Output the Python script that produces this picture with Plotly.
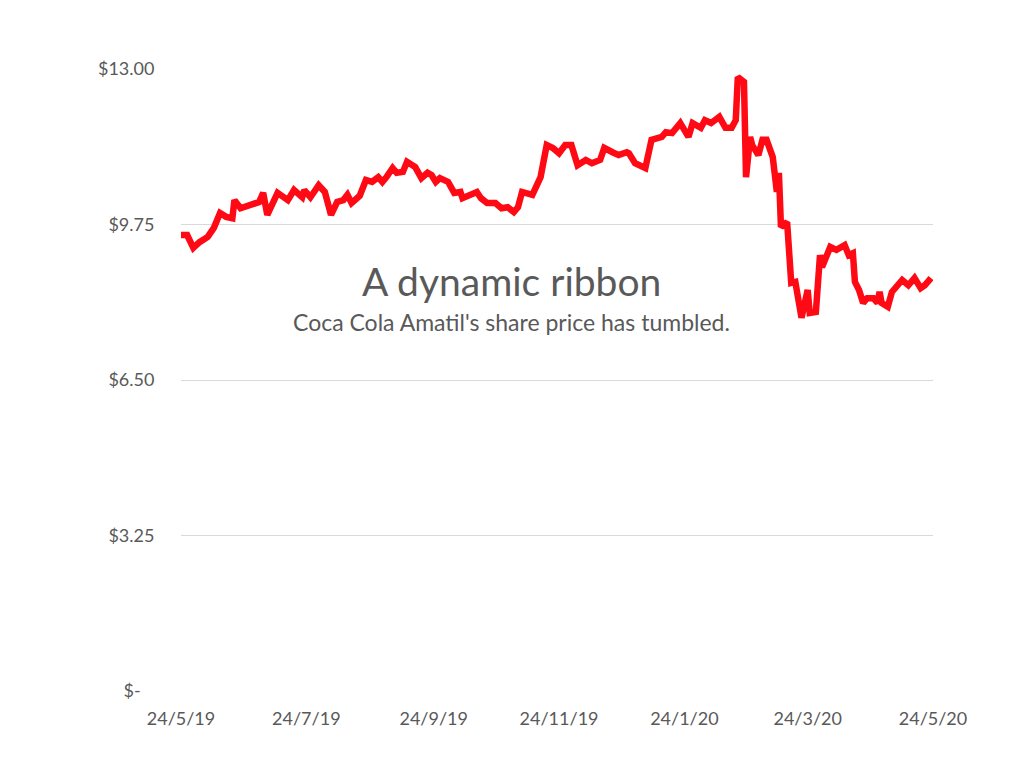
import plotly.graph_objects as go

dates = [
    "2019-05-24", "2019-05-27", "2019-05-30", "2019-06-02", "2019-06-06", "2019-06-09",
    "2019-06-12", "2019-06-15", "2019-06-18", "2019-06-19", "2019-06-22", "2019-07-01",
    "2019-07-03", "2019-07-05", "2019-07-10", "2019-07-15", "2019-07-18", "2019-07-22",
    "2019-07-23", "2019-07-26", "2019-07-30", "2019-08-02", "2019-08-05", "2019-08-08",
    "2019-08-11", "2019-08-13", "2019-08-15", "2019-08-19", "2019-08-22", "2019-08-25",
    "2019-08-28", "2019-08-30", "2019-09-01", "2019-09-04", "2019-09-06", "2019-09-09",
    "2019-09-11", "2019-09-15", "2019-09-18", "2019-09-21", "2019-09-23", "2019-09-25",
    "2019-09-27", "2019-10-01", "2019-10-04", "2019-10-07", "2019-10-08", "2019-10-12",
    "2019-10-15", "2019-10-17", "2019-10-20", "2019-10-24", "2019-10-27", "2019-10-30",
    "2019-11-02", "2019-11-04", "2019-11-06", "2019-11-11", "2019-11-15", "2019-11-18",
    "2019-11-21", "2019-11-24", "2019-11-27", "2019-11-30", "2019-12-03", "2019-12-07",
    "2019-12-10", "2019-12-14", "2019-12-16", "2019-12-20", "2019-12-23", "2019-12-27",
    "2019-12-28", "2019-12-31", "2020-01-02", "2020-01-05", "2020-01-08", "2020-01-11",
    "2020-01-13", "2020-01-15", "2020-01-18", "2020-01-22", "2020-01-26", "2020-01-28",
    "2020-02-01", "2020-02-03", "2020-02-06", "2020-02-10", "2020-02-13", "2020-02-16",
    "2020-02-18", "2020-02-19", "2020-02-22", "2020-02-23", "2020-02-25", "2020-02-26",
    "2020-02-29", "2020-03-02", "2020-03-04", "2020-03-07", "2020-03-08", "2020-03-09",
    "2020-03-10", "2020-03-11", "2020-03-14", "2020-03-16", "2020-03-18", "2020-03-21",
    "2020-03-24", "2020-03-25", "2020-03-28", "2020-03-30", "2020-03-31", "2020-04-04",
    "2020-04-07", "2020-04-11", "2020-04-13", "2020-04-15", "2020-04-16", "2020-04-18",
    "2020-04-20", "2020-04-22", "2020-04-25", "2020-04-27", "2020-04-28", "2020-04-29",
    "2020-05-02", "2020-05-04", "2020-05-09", "2020-05-12", "2020-05-15", "2020-05-18",
    "2020-05-20", "2020-05-23",
]

prices = [
    9.53, 9.53, 9.26, 9.38, 9.49, 9.68,
    9.99, 9.91, 9.88, 10.26, 10.09, 10.22,
    10.41, 9.95, 10.41, 10.26, 10.47, 10.32,
    10.47, 10.32, 10.57, 10.43, 9.95, 10.22,
    10.26, 10.37, 10.20, 10.35, 10.68, 10.64,
    10.74, 10.64, 10.74, 10.93, 10.83, 10.85,
    11.06, 10.95, 10.72, 10.83, 10.78, 10.64,
    10.72, 10.64, 10.41, 10.43, 10.30, 10.37,
    10.43, 10.30, 10.20, 10.20, 10.09, 10.11,
    10.01, 10.11, 10.43, 10.37, 10.74, 11.41,
    11.35, 11.24, 11.41, 11.41, 10.99, 11.10,
    11.03, 11.10, 11.35, 11.26, 11.20, 11.26,
    11.24, 11.03, 10.99, 10.93, 11.52, 11.56,
    11.58, 11.68, 11.66, 11.87, 11.58, 11.87,
    11.77, 11.93, 11.87, 12.00, 11.77, 11.77,
    11.93, 12.83, 12.73, 10.74, 11.58, 11.41,
    11.20, 11.52, 11.52, 11.16, 10.83, 10.43,
    10.83, 9.70, 9.80, 8.53, 8.55, 7.80,
    8.38, 7.90, 7.92, 9.11, 8.86, 9.28,
    9.22, 9.32, 9.11, 9.15, 8.55, 8.38,
    8.11, 8.21, 8.21, 8.11, 8.34, 8.11,
    8.03, 8.34, 8.59, 8.48, 8.63, 8.42,
    8.48, 8.63,
]

x_tick_vals = ["2019-05-24", "2019-07-24", "2019-09-24", "2019-11-24",
               "2020-01-24", "2020-03-24", "2020-05-24"]
x_tick_text = ["24/5/19", "24/7/19", "24/9/19", "24/11/19", "24/1/20", "24/3/20", "24/5/20"]

y_tick_vals = [0, 3.25, 6.5, 9.75, 13]
y_tick_text = ["$-\u00a0\u00a0\u00a0", "$3.25", "$6.50", "$9.75", "$13.00"]

title_text = "A dynamic ribbon"
subtitle_text = "Coca Cola Amatil's share price has tumbled."

FONT = "Lato, 'Noto Sans', sans-serif"
GRAY = "#595959"

fig = go.Figure()
fig.add_trace(go.Scatter(
    x=dates, y=prices, mode="lines",
    line=dict(color="#ff0a14", width=6.5),
    hoverinfo="skip", showlegend=False,
))

fig.update_layout(
    width=1024, height=768,
    margin=dict(l=181, r=91, t=69, b=77),
    paper_bgcolor="white", plot_bgcolor="white",
    font=dict(family=FONT, color=GRAY, size=18),
    xaxis=dict(
        type="date",
        range=["2019-05-24", "2020-05-24"],
        tickvals=x_tick_vals, ticktext=x_tick_text,
        showgrid=False, zeroline=False, showline=False,
        ticks="outside", ticklen=11, tickcolor="rgba(0,0,0,0)",
        tickfont=dict(size=18, color=GRAY),
    ),
    yaxis=dict(
        range=[0, 13],
        tickvals=y_tick_vals, ticktext=y_tick_text,
        showgrid=True, gridcolor="#d9d9d9", gridwidth=1,
        zeroline=False, showline=False,
        ticks="outside", ticklen=22, tickcolor="rgba(0,0,0,0)",
        tickfont=dict(size=18, color=GRAY),
    ),
    annotations=[
        dict(text=title_text, xref="paper", yref="paper", x=0.44, y=0.659,
             xanchor="center", yanchor="middle", showarrow=False,
             font=dict(family=FONT, size=39, color=GRAY)),
        dict(text=subtitle_text, xref="paper", yref="paper", x=0.44, y=0.594,
             xanchor="center", yanchor="middle", showarrow=False,
             font=dict(family=FONT, size=23, color=GRAY)),
    ],
)

fig.write_html("out.html")
